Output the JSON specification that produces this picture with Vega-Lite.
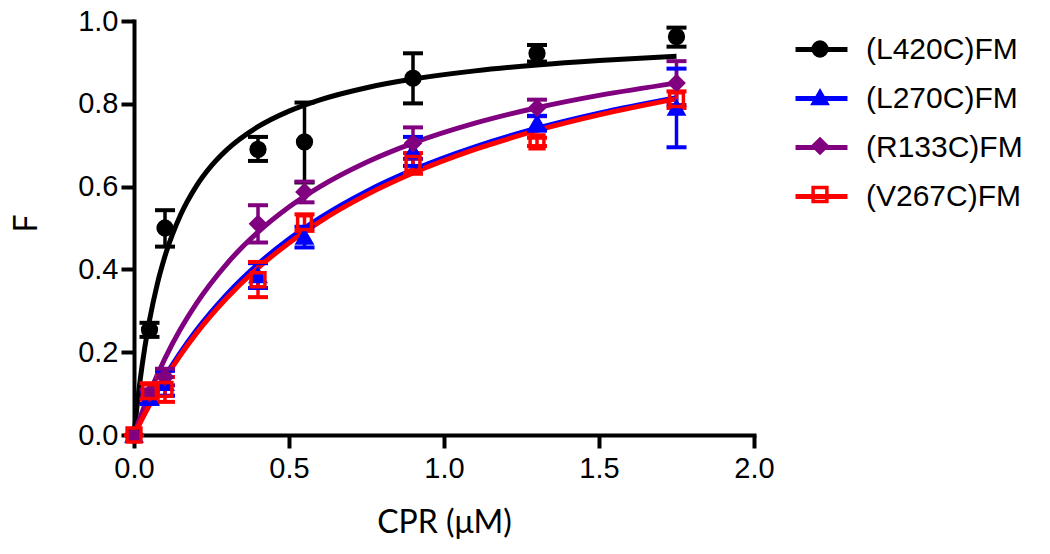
{
  "$schema": "https://vega.github.io/schema/vega-lite/v6.json",
  "width": 620,
  "height": 414,
  "autosize": {"type": "none"},
  "padding": {"left": 134, "top": 21, "right": 296, "bottom": 119},
  "background": "white",
  "config": {
    "view": {"stroke": null},
    "axis": {
      "grid": false,
      "domainColor": "black",
      "domainWidth": 4,
      "domainCap": "square",
      "tickColor": "black",
      "tickWidth": 4,
      "tickSize": 13,
      "labelColor": "black",
      "labelFont": "Liberation Sans",
      "labelFontSize": 29,
      "labelFlush": false,
      "titleColor": "black",
      "titleFont": "Lato",
      "titleFontSize": 32,
      "titleFontWeight": "normal"
    },
    "legend": {
      "labelFont": "Liberation Sans",
      "labelFontSize": 30,
      "labelColor": "black"
    }
  },
  "datasets": {
    "curves": [
      {"curve": "(L420C)FM", "x": 0, "y": 0},
      {"curve": "(L420C)FM", "x": 0.01, "y": 0.0716},
      {"curve": "(L420C)FM", "x": 0.02, "y": 0.1335},
      {"curve": "(L420C)FM", "x": 0.035, "y": 0.212},
      {"curve": "(L420C)FM", "x": 0.05, "y": 0.2771},
      {"curve": "(L420C)FM", "x": 0.075, "y": 0.3642},
      {"curve": "(L420C)FM", "x": 0.1, "y": 0.4322},
      {"curve": "(L420C)FM", "x": 0.15, "y": 0.5312},
      {"curve": "(L420C)FM", "x": 0.2, "y": 0.6},
      {"curve": "(L420C)FM", "x": 0.25, "y": 0.6505},
      {"curve": "(L420C)FM", "x": 0.3, "y": 0.6892},
      {"curve": "(L420C)FM", "x": 0.4, "y": 0.7446},
      {"curve": "(L420C)FM", "x": 0.5, "y": 0.7823},
      {"curve": "(L420C)FM", "x": 0.6, "y": 0.8096},
      {"curve": "(L420C)FM", "x": 0.75, "y": 0.8389},
      {"curve": "(L420C)FM", "x": 0.9, "y": 0.8597},
      {"curve": "(L420C)FM", "x": 1.1, "y": 0.8795},
      {"curve": "(L420C)FM", "x": 1.3, "y": 0.8937},
      {"curve": "(L420C)FM", "x": 1.5, "y": 0.9044},
      {"curve": "(L420C)FM", "x": 1.75, "y": 0.9146},
      {"curve": "(L270C)FM", "x": 0, "y": 0},
      {"curve": "(L270C)FM", "x": 0.01, "y": 0.0159},
      {"curve": "(L270C)FM", "x": 0.025, "y": 0.0389},
      {"curve": "(L270C)FM", "x": 0.05, "y": 0.0753},
      {"curve": "(L270C)FM", "x": 0.1, "y": 0.1414},
      {"curve": "(L270C)FM", "x": 0.15, "y": 0.1997},
      {"curve": "(L270C)FM", "x": 0.2, "y": 0.2517},
      {"curve": "(L270C)FM", "x": 0.3, "y": 0.3402},
      {"curve": "(L270C)FM", "x": 0.4, "y": 0.4128},
      {"curve": "(L270C)FM", "x": 0.5, "y": 0.4733},
      {"curve": "(L270C)FM", "x": 0.6, "y": 0.5246},
      {"curve": "(L270C)FM", "x": 0.75, "y": 0.5885},
      {"curve": "(L270C)FM", "x": 0.9, "y": 0.6404},
      {"curve": "(L270C)FM", "x": 1.1, "y": 0.6962},
      {"curve": "(L270C)FM", "x": 1.3, "y": 0.741},
      {"curve": "(L270C)FM", "x": 1.5, "y": 0.7776},
      {"curve": "(L270C)FM", "x": 1.75, "y": 0.815},
      {"curve": "(R133C)FM", "x": 0, "y": 0},
      {"curve": "(R133C)FM", "x": 0.01, "y": 0.0219},
      {"curve": "(R133C)FM", "x": 0.025, "y": 0.0531},
      {"curve": "(R133C)FM", "x": 0.05, "y": 0.1012},
      {"curve": "(R133C)FM", "x": 0.1, "y": 0.1851},
      {"curve": "(R133C)FM", "x": 0.15, "y": 0.2559},
      {"curve": "(R133C)FM", "x": 0.2, "y": 0.3163},
      {"curve": "(R133C)FM", "x": 0.3, "y": 0.4142},
      {"curve": "(R133C)FM", "x": 0.4, "y": 0.49},
      {"curve": "(R133C)FM", "x": 0.5, "y": 0.5505},
      {"curve": "(R133C)FM", "x": 0.6, "y": 0.5998},
      {"curve": "(R133C)FM", "x": 0.75, "y": 0.6588},
      {"curve": "(R133C)FM", "x": 0.9, "y": 0.7051},
      {"curve": "(R133C)FM", "x": 1.1, "y": 0.7532},
      {"curve": "(R133C)FM", "x": 1.3, "y": 0.7905},
      {"curve": "(R133C)FM", "x": 1.5, "y": 0.8203},
      {"curve": "(R133C)FM", "x": 1.75, "y": 0.85},
      {"curve": "(V267C)FM", "x": 0, "y": 0},
      {"curve": "(V267C)FM", "x": 0.01, "y": 0.0153},
      {"curve": "(V267C)FM", "x": 0.025, "y": 0.0374},
      {"curve": "(V267C)FM", "x": 0.05, "y": 0.0725},
      {"curve": "(V267C)FM", "x": 0.1, "y": 0.1365},
      {"curve": "(V267C)FM", "x": 0.15, "y": 0.1933},
      {"curve": "(V267C)FM", "x": 0.2, "y": 0.2442},
      {"curve": "(V267C)FM", "x": 0.3, "y": 0.3314},
      {"curve": "(V267C)FM", "x": 0.4, "y": 0.4035},
      {"curve": "(V267C)FM", "x": 0.5, "y": 0.464},
      {"curve": "(V267C)FM", "x": 0.6, "y": 0.5156},
      {"curve": "(V267C)FM", "x": 0.75, "y": 0.58},
      {"curve": "(V267C)FM", "x": 0.9, "y": 0.6327},
      {"curve": "(V267C)FM", "x": 1.1, "y": 0.6897},
      {"curve": "(V267C)FM", "x": 1.3, "y": 0.7356},
      {"curve": "(V267C)FM", "x": 1.5, "y": 0.7733},
      {"curve": "(V267C)FM", "x": 1.75, "y": 0.812}
    ],
    "points": [
      {"series": "L420C", "x": 0, "y": 0, "lo": 0, "hi": 0},
      {"series": "L420C", "x": 0.05, "y": 0.254, "lo": 0.237, "hi": 0.271},
      {"series": "L420C", "x": 0.1, "y": 0.5, "lo": 0.455, "hi": 0.543},
      {"series": "L420C", "x": 0.4, "y": 0.69, "lo": 0.662, "hi": 0.72},
      {"series": "L420C", "x": 0.55, "y": 0.708, "lo": 0.61, "hi": 0.803},
      {"series": "L420C", "x": 0.9, "y": 0.862, "lo": 0.801, "hi": 0.922},
      {"series": "L420C", "x": 1.3, "y": 0.922, "lo": 0.902, "hi": 0.942},
      {"series": "L420C", "x": 1.75, "y": 0.962, "lo": 0.938, "hi": 0.984},
      {"series": "L270C", "x": 0, "y": 0, "lo": 0, "hi": 0},
      {"series": "L270C", "x": 0.05, "y": 0.09, "lo": 0.075, "hi": 0.105},
      {"series": "L270C", "x": 0.1, "y": 0.125, "lo": 0.095, "hi": 0.155},
      {"series": "L270C", "x": 0.4, "y": 0.385, "lo": 0.355, "hi": 0.415},
      {"series": "L270C", "x": 0.55, "y": 0.478, "lo": 0.453, "hi": 0.503},
      {"series": "L270C", "x": 0.9, "y": 0.685, "lo": 0.65, "hi": 0.72},
      {"series": "L270C", "x": 1.3, "y": 0.753, "lo": 0.735, "hi": 0.771},
      {"series": "L270C", "x": 1.75, "y": 0.79, "lo": 0.695, "hi": 0.885},
      {"series": "R133C", "x": 0, "y": 0, "lo": 0, "hi": 0},
      {"series": "R133C", "x": 0.05, "y": 0.1, "lo": 0.09, "hi": 0.11},
      {"series": "R133C", "x": 0.1, "y": 0.14, "lo": 0.12, "hi": 0.16},
      {"series": "R133C", "x": 0.4, "y": 0.51, "lo": 0.465, "hi": 0.555},
      {"series": "R133C", "x": 0.55, "y": 0.587, "lo": 0.562, "hi": 0.612},
      {"series": "R133C", "x": 0.9, "y": 0.705, "lo": 0.667, "hi": 0.743},
      {"series": "R133C", "x": 1.3, "y": 0.79, "lo": 0.77, "hi": 0.81},
      {"series": "R133C", "x": 1.75, "y": 0.85, "lo": 0.797, "hi": 0.903},
      {"series": "V267C", "x": 0, "y": 0, "lo": 0, "hi": 0},
      {"series": "V267C", "x": 0.05, "y": 0.105, "lo": 0.085, "hi": 0.125},
      {"series": "V267C", "x": 0.1, "y": 0.11, "lo": 0.08, "hi": 0.14},
      {"series": "V267C", "x": 0.4, "y": 0.375, "lo": 0.333, "hi": 0.418},
      {"series": "V267C", "x": 0.55, "y": 0.513, "lo": 0.493, "hi": 0.533},
      {"series": "V267C", "x": 0.9, "y": 0.656, "lo": 0.631, "hi": 0.681},
      {"series": "V267C", "x": 1.3, "y": 0.708, "lo": 0.698, "hi": 0.718},
      {"series": "V267C", "x": 1.75, "y": 0.81, "lo": 0.79, "hi": 0.83}
    ]
  },
  "encoding": {
    "x": {
      "field": "x", "type": "quantitative",
      "scale": {"domain": [0, 2], "nice": false, "zero": false},
      "axis": {
        "values": [0, 0.5, 1, 1.5, 2], "format": ".1f",
        "title": "CPR (μM)", "labelPadding": 6,
        "titleX": 310, "titleY": 87, "titleBaseline": "middle", "titleAlign": "center"
      }
    },
    "y": {
      "field": "y", "type": "quantitative",
      "scale": {"domain": [0, 1], "nice": false, "zero": false},
      "axis": {
        "values": [0, 0.2, 0.4, 0.6, 0.8, 1.0], "format": ".1f",
        "title": "F", "labelPadding": 3,
        "titleX": -108, "titleY": 202, "titleBaseline": "middle", "titleAlign": "center", "titleAngle": -90
      }
    }
  },
  "layer": [
    {
      "data": {"name": "curves"},
      "mark": {"type": "line", "strokeWidth": 5, "interpolate": "monotone"},
      "encoding": {
        "color": {
          "field": "curve", "type": "nominal",
          "scale": {"domain": ["(L420C)FM", "(L270C)FM", "(R133C)FM", "(V267C)FM"], "range": ["#000000", "#0000ff", "#800080", "#ff0000"]},
          "legend": {
            "title": null, "orient": "none", "legendX": 659, "legendY": 0,
            "symbolType": "stroke", "symbolSize": 2700, "symbolStrokeWidth": 5,
            "labelOffset": 16, "rowPadding": 5
          }
        }
      }
    },
    {
      "data": {"name": "points"},
      "mark": {"type": "rule", "strokeWidth": 3.5, "opacity": 1},
      "encoding": {
        "y": {"field": "lo", "type": "quantitative"},
        "y2": {"field": "hi"},
        "stroke": {"field": "series", "type": "nominal"}
      }
    },
    {
      "data": {"name": "points"},
      "mark": {"type": "point", "shape": "stroke", "size": 400, "strokeWidth": 4, "opacity": 1, "filled": false},
      "encoding": {
        "y": {"field": "lo", "type": "quantitative"},
        "stroke": {"field": "series", "type": "nominal"}
      }
    },
    {
      "data": {"name": "points"},
      "mark": {"type": "point", "shape": "stroke", "size": 400, "strokeWidth": 4, "opacity": 1, "filled": false},
      "encoding": {
        "y": {"field": "hi", "type": "quantitative"},
        "stroke": {"field": "series", "type": "nominal"}
      }
    },
    {
      "data": {"name": "points"},
      "mark": {"type": "point", "size": 190, "strokeWidth": 3.5, "opacity": 1},
      "encoding": {
        "shape": {
          "field": "series", "type": "nominal",
          "scale": {"domain": ["L420C", "L270C", "R133C", "V267C"], "range": ["circle", "triangle-up", "diamond", "square"]},
          "legend": {
            "title": null, "orient": "none", "legendX": 671, "legendY": 13,
            "symbolType": "circle", "symbolSize": 190, "symbolStrokeWidth": 3.5,
            "labelExpr": "''", "labelOffset": 0, "rowPadding": 18.5
          }
        },
        "stroke": {
          "field": "series", "type": "nominal",
          "scale": {"domain": ["L420C", "L270C", "R133C", "V267C"], "range": ["#000000", "#0000ff", "#800080", "#ff0000"]}
        },
        "fill": {
          "field": "series", "type": "nominal",
          "scale": {"domain": ["L420C", "L270C", "R133C", "V267C"], "range": ["#000000", "#0000ff", "#800080", "transparent"]}
        }
      }
    }
  ]
}
